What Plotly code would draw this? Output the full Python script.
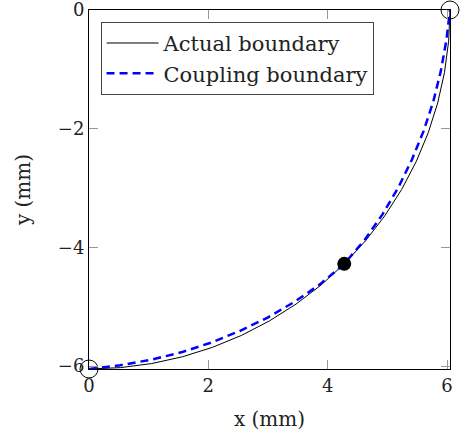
import plotly.graph_objects as go

# Actual boundary
actual_x = [0.0, 0.527, 1.051, 1.566, 2.069, 2.557, 3.025, 3.470, 3.889, 4.278,
            4.635, 4.956, 5.239, 5.483, 5.685, 5.844, 5.958, 6.027, 6.05]
actual_y = [-6.05, -6.027, -5.958, -5.844, -5.685, -5.483, -5.239, -4.956, -4.635, -4.278,
            -3.889, -3.470, -3.025, -2.557, -2.069, -1.566, -1.051, -0.527, 0.0]

# Coupling boundary
coupling_x = [0.0, 0.524, 1.039, 1.546, 2.041, 2.523, 2.993, 3.444, 3.876, 4.278,
              4.619, 4.919, 5.183, 5.411, 5.607, 5.769, 5.894, 5.987, 6.05]
coupling_y = [-6.05, -5.987, -5.894, -5.769, -5.607, -5.411, -5.183, -4.919, -4.619, -4.278,
              -3.876, -3.444, -2.993, -2.523, -2.041, -1.546, -1.039, -0.524, 0.0]

# Marked points
open_x = [0.0, 6.05]
open_y = [-6.05, 0.0]
mid_x = [4.278]
mid_y = [-4.278]

x_ticks = [0, 2, 4, 6]
y_ticks = [0, -2, -4, -6]

FONT = "DejaVu Serif"

fig = go.Figure()
fig.add_trace(go.Scatter(x=actual_x, y=actual_y, mode="lines", name="Actual boundary",
                         line=dict(color="black", width=1)))
fig.add_trace(go.Scatter(x=coupling_x, y=coupling_y, mode="lines", name="Coupling boundary",
                         line=dict(color="#0000ff", width=2.5, dash="8px,5px")))
fig.add_trace(go.Scatter(x=open_x, y=open_y, mode="markers", showlegend=False, cliponaxis=False,
                         marker=dict(symbol="circle-open", size=18, color="black",
                                     line=dict(color="black", width=1))))
fig.add_trace(go.Scatter(x=mid_x, y=mid_y, mode="markers", showlegend=False, cliponaxis=False,
                         marker=dict(symbol="circle", size=14, color="black")))

axis_common = dict(
    showgrid=False, zeroline=False, showline=True, linecolor="black", linewidth=1,
    mirror="allticks", ticks="inside", ticklen=9, tickcolor="#999999", tickwidth=1,
    tickfont=dict(family=FONT, size=18, color="#222"), automargin=False,
    ticklabeloverflow="allow",
)

fig.update_layout(
    width=460, height=437,
    margin=dict(l=89, r=10, t=10, b=68),
    plot_bgcolor="white", paper_bgcolor="white",
    font=dict(family=FONT, size=20, color="#222"),
    xaxis=dict(range=[0, 6.05], tickvals=x_ticks, ticktext=[str(v) for v in x_ticks],
               title=dict(text="x (mm)", font=dict(family=FONT, size=20), standoff=17),
               **axis_common),
    yaxis=dict(range=[-6.05, 0], tickvals=y_ticks,
               ticktext=["0" if v == 0 else "\u2212" + str(-v) for v in y_ticks],
               title=dict(text="y (mm)", font=dict(family=FONT, size=20), standoff=21),
               **axis_common),
    legend=dict(x=0.032, y=0.967, xanchor="left", yanchor="top",
                bgcolor="white", bordercolor="#444", borderwidth=1,
                font=dict(family=FONT, size=21, color="#222"), itemwidth=52),
)

fig.write_html("out.html", config={"displayModeBar": False},
               post_script="document.body.style.margin='0';document.body.style.overflow='hidden';")
